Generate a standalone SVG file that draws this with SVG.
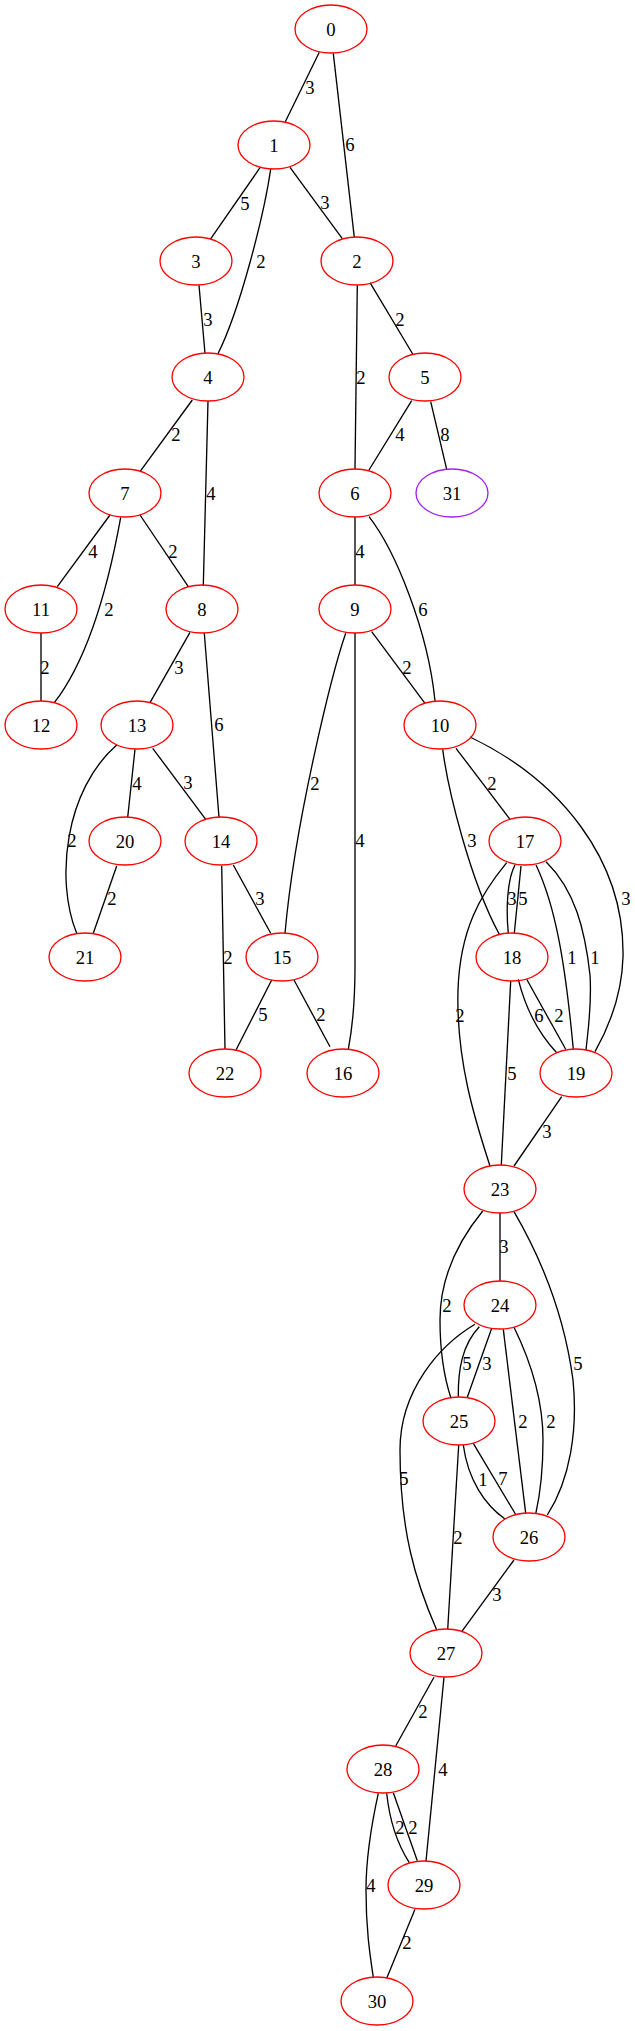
<svg xmlns="http://www.w3.org/2000/svg" width="635" height="2031" viewBox="0 0 635 2031">
<style>
.n ellipse{fill:none;stroke:#ff0000;stroke-width:1.33}
.n.p ellipse{stroke:#a020f0}
text{font-family:"Liberation Serif","Times New Roman",serif;font-size:18.67px;text-anchor:middle;fill:#000}
#edges path{fill:none;stroke:#000;stroke-width:1.33}
</style>
<rect width="635" height="2031" fill="#fff"/>
<g id="edges">
<path d="M319.3,52.3 L285.3,121.7"/><text x="310" y="93.5">3</text>
<path d="M333.3,53.3 L354.3,237.3"/><text x="350" y="150.5">6</text>
<path d="M260,167.7 L210.3,239.3"/><text x="245" y="209.5">5</text>
<path d="M270.7,169 C264,215 240,310 217.7,354.3"/><text x="261" y="267.5">2</text>
<path d="M290,167.3 L342.3,238.7"/><text x="325" y="208.5">3</text>
<path d="M199,285.3 L205,353.3"/><text x="208" y="325.5">3</text>
<path d="M357.3,285.3 L355,469"/><text x="361" y="383.5">2</text>
<path d="M370,282.7 L413.3,355"/><text x="400" y="325.5">2</text>
<path d="M411.7,400.7 L369,470"/><text x="400" y="440.5">4</text>
<path d="M430.7,401.7 L446.7,469.3"/><text x="445" y="440.5">8</text>
<path d="M192.3,400 L140,471.7"/><text x="176" y="440.5">2</text>
<path d="M208,401 L203.3,585.7"/><text x="211" y="499.5">4</text>
<path d="M110,515 L57.3,586.7"/><text x="93" y="557.5">4</text>
<path d="M120.7,517.3 C113,560 95,650 54.3,702.7"/><text x="109" y="615.5">2</text>
<path d="M140,515 L188.3,586.7"/><text x="173" y="557.5">2</text>
<path d="M41,633 L41,701"/><text x="45" y="673.5">2</text>
<path d="M190,632.3 L150,702.7"/><text x="179" y="673.5">3</text>
<path d="M204.3,633.3 L219,817.3"/><text x="219" y="730.5">6</text>
<path d="M116.7,745 C65,790 55,880 76.7,933.3"/><text x="72" y="846.5">2</text>
<path d="M135,749.3 L127.7,817.3"/><text x="137" y="789.5">4</text>
<path d="M152.7,748.3 L205.7,819.3"/><text x="188" y="788.5">3</text>
<path d="M116.7,866 L93.3,933.3"/><text x="112" y="904.5">2</text>
<path d="M221.7,866 L225,1049.3"/><text x="228" y="963.5">2</text>
<path d="M233.3,865 L270.7,933.3"/><text x="260" y="904.5">3</text>
<path d="M271.7,980 L236,1050"/><text x="263" y="1020.5">5</text>
<path d="M294,980 L330,1046.7"/><text x="321" y="1020.5">2</text>
<path d="M345.7,633.3 C333,670 295,820 285,933.3"/><text x="315" y="789.5">2</text>
<path d="M355,633 L355,966 C355,1000 352,1030 348.3,1049.3"/><text x="360" y="846.5">4</text>
<path d="M355,517 L355,585"/><text x="360" y="557.5">4</text>
<path d="M369,516.7 C395,550 428,630 435,701"/><text x="423" y="615.5">6</text>
<path d="M371.7,631.7 L425,703.3"/><text x="407" y="673.5">2</text>
<path d="M456,748.3 L510,819.3"/><text x="492" y="789.5">2</text>
<path d="M442.7,749.3 C448,790 470,880 499.3,934.3"/><text x="472" y="846.5">3</text>
<path d="M470,737 C560,780 625,860 623,957 C622,995 610,1025 595,1051.7"/><text x="626" y="904.5">3</text>
<path d="M515,865 C507,880 506,910 508.3,933.3"/><text x="512" y="904.5">3</text>
<path d="M521,866 L514.3,933.3"/><text x="523" y="904.5">5</text>
<path d="M506.7,862.7 C480,895 460,930 458,990 C456,1060 475,1120 490,1166"/><text x="460" y="1021.5">2</text>
<path d="M536,865 C555,905 565,960 573.3,1049.3"/><text x="572" y="963.5">1</text>
<path d="M546,861.7 C575,890 585,930 590,975 C592,1005 588,1030 586,1050"/><text x="595" y="963.5">1</text>
<path d="M518.3,979.3 C526,1010 540,1035 556.7,1052.7"/><text x="539" y="1021.5">6</text>
<path d="M526.7,979.3 L565.7,1049.3"/><text x="559" y="1021.5">2</text>
<path d="M510.7,981 L501.3,1165"/><text x="512" y="1079.5">5</text>
<path d="M561.7,1096.7 L514,1166"/><text x="547" y="1137.5">3</text>
<path d="M500,1213 L500,1281"/><text x="504" y="1252.5">3</text>
<path d="M482.7,1211 C455,1245 440,1280 440,1320 C440,1355 445,1380 451,1398.3"/><text x="447" y="1311.5">2</text>
<path d="M514,1211.7 C545,1265 565,1320 573,1380 C578,1430 570,1480 547.3,1515"/><text x="578" y="1369.5">5</text>
<path d="M479.3,1326.7 C462,1345 458,1370 458.3,1396.7"/><text x="467" y="1369.5">5</text>
<path d="M491.7,1328.3 L467.3,1397.3"/><text x="487" y="1369.5">3</text>
<path d="M475,1324.3 C440,1345 400,1390 400,1450 C400,1530 415,1580 436.7,1630"/><text x="404" y="1484.5">5</text>
<path d="M503.3,1329.3 L525.7,1513.3"/><text x="523" y="1427.5">2</text>
<path d="M514,1327.3 C530,1360 543,1400 543,1440 C543,1470 540,1495 535.7,1514"/><text x="551" y="1427.5">2</text>
<path d="M463.3,1445 C468,1480 485,1505 505,1519"/><text x="483" y="1485.5">1</text>
<path d="M473.3,1443.3 L516,1515"/><text x="503" y="1484.5">7</text>
<path d="M458.7,1445 L447.7,1629.3"/><text x="458" y="1543.5">2</text>
<path d="M514,1560 L461.7,1631.7"/><text x="497" y="1600.5">3</text>
<path d="M434,1677.3 L395.7,1746"/><text x="423" y="1717.5">2</text>
<path d="M444,1677.3 L426,1861"/><text x="443" y="1775.5">4</text>
<path d="M386.7,1793.3 C390,1825 398,1845 409.3,1862.7"/><text x="400" y="1833.5">2</text>
<path d="M393.3,1792.7 L417.3,1860.7"/><text x="413" y="1833.5">2</text>
<path d="M378.3,1793.3 C368,1840 366,1870 366,1890 C366,1930 370,1955 373.3,1977.3"/><text x="371" y="1891.5">4</text>
<path d="M415,1909.3 L386.7,1978.3"/><text x="407" y="1948.5">2</text>
</g>
<g id="node0" class="n"><ellipse cx="331" cy="29" rx="36" ry="24"/><text x="331" y="35.5">0</text></g>
<g id="node1" class="n"><ellipse cx="274" cy="145" rx="36" ry="24"/><text x="274" y="151.5">1</text></g>
<g id="node3" class="n"><ellipse cx="196" cy="261" rx="36" ry="24"/><text x="196" y="267.5">3</text></g>
<g id="node2" class="n"><ellipse cx="357" cy="261" rx="36" ry="24"/><text x="357" y="267.5">2</text></g>
<g id="node4" class="n"><ellipse cx="208" cy="377" rx="36" ry="24"/><text x="208" y="383.5">4</text></g>
<g id="node5" class="n"><ellipse cx="425" cy="377" rx="36" ry="24"/><text x="425" y="383.5">5</text></g>
<g id="node7" class="n"><ellipse cx="125" cy="493" rx="36" ry="24"/><text x="125" y="499.5">7</text></g>
<g id="node6" class="n"><ellipse cx="355" cy="493" rx="36" ry="24"/><text x="355" y="499.5">6</text></g>
<g id="node31" class="n p"><ellipse cx="452" cy="493" rx="36" ry="24"/><text x="452" y="499.5">31</text></g>
<g id="node11" class="n"><ellipse cx="41" cy="609" rx="36" ry="24"/><text x="41" y="615.5">11</text></g>
<g id="node8" class="n"><ellipse cx="202" cy="609" rx="36" ry="24"/><text x="202" y="615.5">8</text></g>
<g id="node9" class="n"><ellipse cx="355" cy="609" rx="36" ry="24"/><text x="355" y="615.5">9</text></g>
<g id="node12" class="n"><ellipse cx="41" cy="725" rx="36" ry="24"/><text x="41" y="731.5">12</text></g>
<g id="node13" class="n"><ellipse cx="137" cy="725" rx="36" ry="24"/><text x="137" y="731.5">13</text></g>
<g id="node10" class="n"><ellipse cx="440" cy="725" rx="36" ry="24"/><text x="440" y="731.5">10</text></g>
<g id="node20" class="n"><ellipse cx="125" cy="841" rx="36" ry="24"/><text x="125" y="847.5">20</text></g>
<g id="node14" class="n"><ellipse cx="221" cy="841" rx="36" ry="24"/><text x="221" y="847.5">14</text></g>
<g id="node17" class="n"><ellipse cx="525" cy="841" rx="36" ry="24"/><text x="525" y="847.5">17</text></g>
<g id="node21" class="n"><ellipse cx="85" cy="957" rx="36" ry="24"/><text x="85" y="963.5">21</text></g>
<g id="node15" class="n"><ellipse cx="282" cy="957" rx="36" ry="24"/><text x="282" y="963.5">15</text></g>
<g id="node18" class="n"><ellipse cx="512" cy="957" rx="36" ry="24"/><text x="512" y="963.5">18</text></g>
<g id="node22" class="n"><ellipse cx="225" cy="1073" rx="36" ry="24"/><text x="225" y="1079.5">22</text></g>
<g id="node16" class="n"><ellipse cx="343" cy="1073" rx="36" ry="24"/><text x="343" y="1079.5">16</text></g>
<g id="node19" class="n"><ellipse cx="576" cy="1073" rx="36" ry="24"/><text x="576" y="1079.5">19</text></g>
<g id="node23" class="n"><ellipse cx="500" cy="1189" rx="36" ry="24"/><text x="500" y="1195.5">23</text></g>
<g id="node24" class="n"><ellipse cx="500" cy="1305" rx="36" ry="24"/><text x="500" y="1311.5">24</text></g>
<g id="node25" class="n"><ellipse cx="459" cy="1421" rx="36" ry="24"/><text x="459" y="1427.5">25</text></g>
<g id="node26" class="n"><ellipse cx="529" cy="1537" rx="36" ry="24"/><text x="529" y="1543.5">26</text></g>
<g id="node27" class="n"><ellipse cx="446" cy="1653" rx="36" ry="24"/><text x="446" y="1659.5">27</text></g>
<g id="node28" class="n"><ellipse cx="383" cy="1769" rx="36" ry="24"/><text x="383" y="1775.5">28</text></g>
<g id="node29" class="n"><ellipse cx="424" cy="1885" rx="36" ry="24"/><text x="424" y="1891.5">29</text></g>
<g id="node30" class="n"><ellipse cx="377" cy="2001" rx="36" ry="24"/><text x="377" y="2007.5">30</text></g>
</svg>
